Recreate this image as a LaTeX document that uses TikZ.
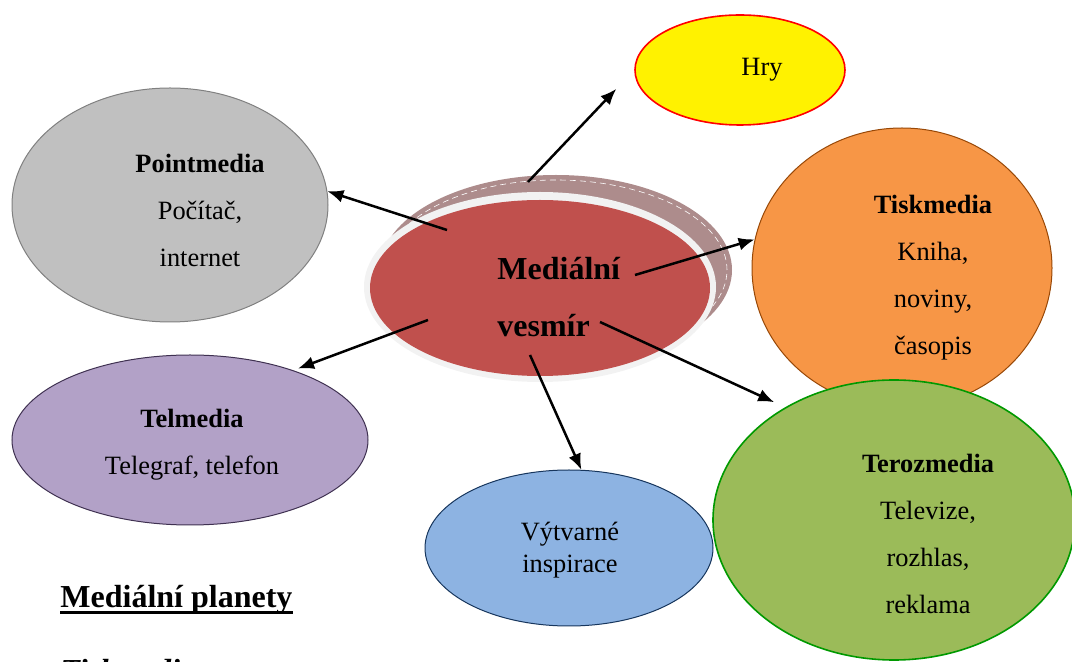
\documentclass[tikz,border=0pt]{standalone}
\usepackage{fontspec}
\setmainfont{Liberation Serif}
\usetikzlibrary{shapes.geometric, arrows.meta}
\definecolor{stinc}{HTML}{AD8C8C}
\definecolor{kruhc}{HTML}{F2F2F2}
\definecolor{stredc}{HTML}{C0504D}
\definecolor{sedac}{HTML}{C0C0C0}
\definecolor{sedadraw}{HTML}{808080}
\definecolor{oranzc}{HTML}{F79646}
\definecolor{oranzdraw}{HTML}{984807}
\definecolor{zelenc}{HTML}{9BBB59}
\definecolor{zelendraw}{HTML}{009900}
\definecolor{fialc}{HTML}{B2A1C7}
\definecolor{fialdraw}{HTML}{3F3151}
\definecolor{modrc}{HTML}{8DB3E2}
\definecolor{modrdraw}{HTML}{17365D}

\begin{document}
\begin{tikzpicture}[x=0.5pt, y=-0.5pt]
	% styly uzlů
	\tikzstyle{planet} = [ellipse, draw, inner sep=0pt, line width=0.5pt]
	\tikzstyle{txt} = [align=center, inner sep=0pt, font=\fontsize{13.2}{23.5}\selectfont]
	\tikzstyle{arrow} = [line width=1.25pt, -{Latex[length=8pt,width=6.5pt]}]
	\useasboundingbox (0,0) rectangle (1072,662);
	
	% střed
	\node [ellipse, fill=stinc, minimum width=176pt, minimum height=95pt] (stin) at (556,270) {};
	\node [ellipse, draw=white, densely dashed, line width=0.3pt, minimum width=171pt, minimum height=90pt] (stinlinka) at (556,270) {};
	\node [ellipse, fill=kruhc, minimum width=176pt, minimum height=95pt] (kruh) at (540,287) {};
	\node [ellipse, fill=stredc, minimum width=170pt, minimum height=88pt] (vesmir) at (540,288) {};
	\node [txt, align=left, anchor=west, font=\bfseries\fontsize{16}{28.5}\selectfont] (vesmirtxt) at (497,297) {Mediální\\vesmír};
	
	% planety
	\node [planet, fill=sedac, draw=sedadraw, minimum width=158pt, minimum height=117pt] (point) at (170,205) {};
	\node [txt] (pointtxt) at (200,210) {\textbf{Pointmedia}\\Počítač,\\internet};
	\node [planet, fill=yellow, draw=red, line width=0.8pt, minimum width=105pt, minimum height=55pt] (hry) at (740,70) {};
	\node [txt] (hrytxt) at (762,70) {Hry};
	\node [planet, fill=oranzc, draw=oranzdraw, minimum width=150pt, minimum height=140pt] (tisk) at (902,268) {};
	\node [txt] (tisktxt) at (933,278) {\textbf{Tiskmedia}\\Kniha,\\noviny,\\časopis};
	\node [planet, fill=fialc, draw=fialdraw, minimum width=178pt, minimum height=85pt] (tel) at (190,440) {};
	\node [txt] (teltxt) at (192,445) {\textbf{Telmedia}\\Telegraf, telefon};
	\node [planet, fill=modrc, draw=modrdraw, minimum width=144pt, minimum height=78pt] (vyt) at (569,548) {};
	\node [txt, font=\fontsize{13.2}{16}\selectfont] (vyttxt) at (570,550) {Výtvarné\\inspirace};
	\node [planet, fill=zelenc, draw=zelendraw, line width=0.8pt, minimum width=181pt, minimum height=140pt] (teroz) at (894,520) {};
	\node [txt] (teroztxt) at (928,534) {\textbf{Terozmedia}\\Televize,\\rozhlas,\\reklama};
	
	% nadpisy dole
	\node [anchor=base west, inner sep=0pt, font=\bfseries\fontsize{16}{19}\selectfont] (planety) at (60,608) {Mediální planety};
	\draw [line width=1.5pt] ([yshift=-2.5pt]planety.base west) -- ([yshift=-2.5pt]planety.base east);
	\node [anchor=base west, inner sep=0pt, font=\bfseries\itshape\fontsize{16}{19}\selectfont] (tiskdole) at (60,682) {Tiskmedia};
	
	% šipky
	\coordinate (z1) at (528,182);
	\coordinate (z2) at (447,230);
	\coordinate (z3) at (635,275);
	\coordinate (z4) at (428,320);
	\coordinate (z5) at (600,322);
	\coordinate (z6) at (530,355);
	\draw [arrow, shorten >=13pt] (z1) -- (hry.west);
	\draw [arrow] (z2) -- (point.5);
	\draw [arrow] (z3) -- (tisk.169);
	\draw [arrow, shorten >=2.5pt] (z4) -- (tel.34);
	\draw [arrow, shorten >=6pt] (z5) -- (teroz.134);
	\draw [arrow] (z6) -- (vyt.81);
\end{tikzpicture}
\end{document}
